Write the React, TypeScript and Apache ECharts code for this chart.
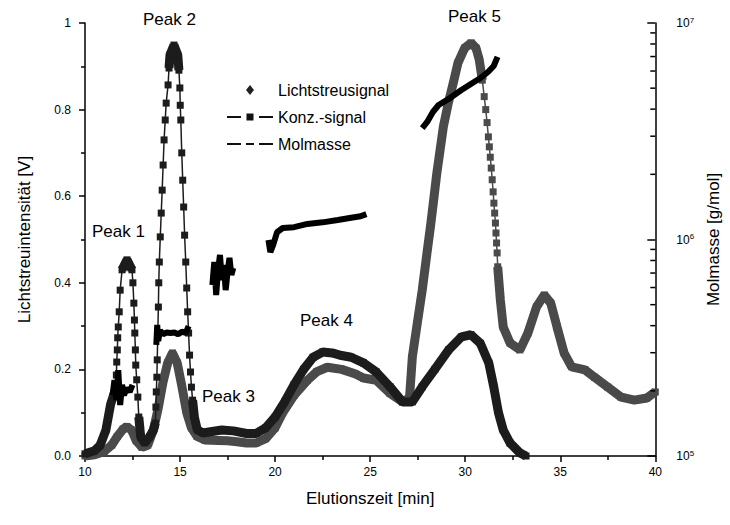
import React, { useEffect, useRef } from "react";
import * as echarts from "echarts";

// Lichtstreusignal (grey curve) [time min, V]
const lichtstreuSignal: [number, number][] = [
  [10.0, 0.0], [10.5, 0.003], [11.0, 0.01], [11.4, 0.025], [11.7, 0.045], [12.0, 0.062], [12.2, 0.068],
  [12.45, 0.06], [12.7, 0.035], [13.0, 0.02], [13.3, 0.025], [13.6, 0.06], [13.85, 0.11], [14.1, 0.17],
  [14.35, 0.215], [14.6, 0.238], [14.85, 0.215], [15.1, 0.16], [15.35, 0.1], [15.6, 0.065], [15.9, 0.045],
  [16.3, 0.037], [17.0, 0.036], [17.5, 0.035], [18.0, 0.033], [18.5, 0.03], [19.0, 0.03], [19.5, 0.04],
  [20.0, 0.065], [20.4, 0.1], [21.0, 0.14], [21.7, 0.175], [22.2, 0.195], [22.75, 0.205], [23.5, 0.2],
  [24.2, 0.19], [24.65, 0.18], [25.32, 0.175], [26.04, 0.145], [26.7, 0.125], [27.07, 0.134], [27.22, 0.229],
  [27.48, 0.307], [27.74, 0.383], [27.99, 0.469], [28.17, 0.529], [28.34, 0.591], [28.51, 0.654],
  [28.68, 0.707], [28.85, 0.76], [29.11, 0.815], [29.37, 0.861], [29.62, 0.908], [29.97, 0.942],
  [30.31, 0.954], [30.57, 0.942], [30.74, 0.915], [30.9, 0.868], [31.0, 0.83], [31.08, 0.8], [31.15, 0.77],
  [31.22, 0.737], [31.27, 0.714], [31.32, 0.69], [31.37, 0.665], [31.42, 0.638], [31.47, 0.61],
  [31.51, 0.584], [31.55, 0.561], [31.59, 0.538], [31.62, 0.515], [31.65, 0.492], [31.68, 0.469],
  [31.71, 0.437], [31.85, 0.36], [32.0, 0.298], [32.36, 0.261], [32.88, 0.245], [33.3, 0.284],
  [33.75, 0.344], [34.16, 0.372], [34.5, 0.353], [34.83, 0.298], [35.2, 0.238], [35.6, 0.206],
  [36.3, 0.199], [36.8, 0.182], [37.5, 0.159], [38.2, 0.136], [38.9, 0.129], [39.56, 0.134], [40.0, 0.148],
];

// Konz.-signal (black curve) [time min, V]
const konzSignal: [number, number][] = [
  [10.0, 0.005], [10.5, 0.012], [10.8, 0.025], [11.1, 0.06], [11.35, 0.12], [11.59, 0.152], [11.65, 0.187],
  [11.67, 0.217], [11.7, 0.245], [11.72, 0.273], [11.75, 0.298], [11.8, 0.333], [11.85, 0.383],
  [11.95, 0.43], [12.21, 0.453], [12.47, 0.43], [12.52, 0.4], [12.57, 0.353], [12.6, 0.314], [12.62, 0.284],
  [12.65, 0.245], [12.67, 0.21], [12.72, 0.176], [12.78, 0.136], [12.83, 0.09], [12.93, 0.044],
  [13.14, 0.03], [13.39, 0.044], [13.6, 0.06], [13.7, 0.076], [13.73, 0.113], [13.75, 0.148],
  [13.78, 0.182], [13.8, 0.222], [13.83, 0.284], [13.86, 0.344], [13.88, 0.4], [13.91, 0.448],
  [13.96, 0.506], [14.01, 0.561], [14.06, 0.614], [14.11, 0.672], [14.16, 0.73], [14.22, 0.776],
  [14.27, 0.815], [14.37, 0.857], [14.42, 0.896], [14.47, 0.926], [14.68, 0.949], [14.88, 0.926],
  [14.94, 0.891], [14.99, 0.85], [15.01, 0.81], [15.04, 0.776], [15.09, 0.7], [15.14, 0.637],
  [15.19, 0.575], [15.24, 0.51], [15.3, 0.448], [15.35, 0.388], [15.4, 0.333], [15.45, 0.284],
  [15.5, 0.233], [15.55, 0.194], [15.6, 0.159], [15.66, 0.129], [15.76, 0.088], [15.91, 0.06],
  [16.22, 0.053], [16.6, 0.056], [17.2, 0.06], [17.8, 0.058], [18.5, 0.052], [19.0, 0.052], [19.5, 0.065],
  [20.0, 0.09], [20.5, 0.125], [21.0, 0.165], [21.5, 0.2], [22.0, 0.228], [22.5, 0.24], [23.0, 0.238],
  [23.5, 0.232], [24.0, 0.228], [24.65, 0.215], [25.32, 0.194], [26.04, 0.16], [26.7, 0.125],
  [27.22, 0.125], [27.74, 0.16], [28.4, 0.2], [29.13, 0.245], [29.8, 0.275], [30.3, 0.28], [30.8, 0.26],
  [31.24, 0.215], [31.5, 0.16], [31.75, 0.1], [32.0, 0.06], [32.36, 0.03], [32.88, 0.007], [33.2, 0.0],
];

// Molmasse [g/mol], five separate segments
const molmasseA: [number, number][] = [
  [11.45, 1.91e5], [11.55, 2.24e5], [11.65, 1.81e5], [11.75, 2.49e5], [11.85, 1.72e5], [11.95, 2.13e5],
  [12.05, 1.91e5], [12.2, 2.06e5], [12.35, 1.98e5], [12.5, 2.13e5],
];
const molmasseB: [number, number][] = [
  [13.75, 3.26e5], [13.8, 4.03e5], [13.85, 3.4e5], [13.95, 3.8e5], [14.1, 3.65e5], [14.3, 3.72e5],
  [14.5, 3.7e5], [14.7, 3.72e5], [14.9, 3.65e5], [15.1, 3.75e5], [15.3, 3.7e5], [15.45, 3.98e5],
];
const molmasseC: [number, number][] = [
  [16.7, 6.17e5], [16.8, 7.87e5], [16.9, 5.54e5], [17.0, 7.23e5], [17.1, 8.48e5], [17.2, 6.5e5],
  [17.3, 7.62e5], [17.4, 5.84e5], [17.5, 7.08e5], [17.6, 8.22e5], [17.7, 6.86e5], [17.8, 7.38e5],
];
const molmasseD: [number, number][] = [
  [19.65, 9.95e5], [19.75, 8.75e5], [19.9, 9.44e5], [20.1, 1.08e6], [20.4, 1.13e6], [21.0, 1.14e6],
  [21.7, 1.18e6], [22.5, 1.2e6], [23.3, 1.23e6], [24.0, 1.26e6], [24.5, 1.28e6], [24.8, 1.31e6],
];
const molmasseE: [number, number][] = [
  [27.74, 3.27e6], [28.0, 3.49e6], [28.3, 3.88e6], [28.6, 4.18e6], [29.2, 4.5e6], [29.8, 4.9e6],
  [30.3, 5.23e6], [30.8, 5.57e6], [31.2, 5.94e6], [31.5, 6.33e6], [31.7, 6.97e6],
];

// time ranges where the measured points stand apart (drawn as separate squares)
const lichtSparseRanges: [number, number][] = [[30.85, 31.72]];
const konzSparseRanges: [number, number][] = [[11.58, 12.0], [12.45, 12.85], [13.69, 14.45], [14.9, 15.7]];

const xMin = 10;
const xMax = 40;
const xInterval = 5;
const yLeftMin = 0;
const yLeftMax = 1;
const yLeftInterval = 0.2;
const yRightMin = 1e5;
const yRightMax = 1e7;
const logMinorTicks = [2e5, 3e5, 4e5, 5e5, 6e5, 7e5, 8e5, 9e5, 2e6, 3e6, 4e6, 5e6, 6e6, 7e6, 8e6, 9e6];

const peakLabels = [
  { text: "Peak 1", left: 92, top: 223 },
  { text: "Peak 2", left: 143, top: 11 },
  { text: "Peak 3", left: 202, top: 388 },
  { text: "Peak 4", left: 300, top: 312 },
  { text: "Peak 5", left: 448, top: 8 },
];

const FONT = "'Liberation Sans', Arial, sans-serif";
// legend icons drawn in a 46x12 box; two tiny anchors keep the box size
const ANCHORS = "M0,0L0.05,0L0,0.05Z M46,12L45.95,12L46,11.95Z ";
const DIAMOND_ICON = "path://" + ANCHORS + "M23,1L27,6L23,11L19,6Z";
const LINE_SQUARE_ICON = "path://" + ANCHORS + "M0,5.1H14V6.9H0Z M19.5,2.5H26.5V9.5H19.5Z M32,5.1H46V6.9H32Z";
const DASH_DOT_ICON = "path://" + ANCHORS + "M0,5.1H14V6.9H0Z M19,5.1H27V6.9H19Z M32,5.1H46V6.9H32Z";

function thickPart(pts: [number, number][], sparse: [number, number][]) {
  const inSparse = (a: number, b: number) => sparse.some(([s, e]) => a >= s && a <= e && b >= s && b <= e);
  const out: any[] = [];
  for (let i = 0; i < pts.length; i++) {
    out.push(pts[i]);
    if (i < pts.length - 1 && inSparse(pts[i][0], pts[i + 1][0])) {
      out.push([(pts[i][0] + pts[i + 1][0]) / 2, "-"]);
    }
  }
  return out;
}

function joinSegments(segs: [number, number][][]) {
  const out: any[] = [];
  segs.forEach((s, i) => {
    if (i > 0) out.push([(segs[i - 1][segs[i - 1].length - 1][0] + s[0][0]) / 2, "-"]);
    s.forEach((p) => out.push(p));
  });
  return out;
}

export default function App() {
  const ref = useRef<HTMLDivElement>(null);
  useEffect(() => {
    if (!ref.current) return;
    const chart = echarts.init(ref.current, undefined, { renderer: "svg" });
    const grey = "#4a4a4a";
    const black = "#1c1c1c";
    chart.setOption({
      animation: false,
      backgroundColor: "#ffffff",
      textStyle: { fontFamily: FONT },
      grid: { left: 85, right: 62, top: 23, bottom: 69 },
      legend: {
        left: 222,
        top: 77,
        orient: "vertical",
        itemWidth: 46,
        itemHeight: 12,
        itemGap: 11,
        textStyle: { fontSize: 16, color: "#000", fontFamily: FONT },
        data: [
          { name: "Lichtstreusignal", icon: DIAMOND_ICON, itemStyle: { color: "#222", borderWidth: 0 } },
          { name: "Konz.-signal", icon: LINE_SQUARE_ICON, itemStyle: { color: "#111", borderWidth: 0 } },
          { name: "Molmasse", icon: DASH_DOT_ICON, itemStyle: { color: "#111", borderWidth: 0 } },
        ],
      },
      xAxis: {
        type: "value",
        min: xMin,
        max: xMax,
        interval: xInterval,
        name: "Elutionszeit [min]",
        nameLocation: "middle",
        nameGap: 34,
        nameTextStyle: { fontSize: 17, color: "#000", fontFamily: FONT },
        axisLine: { lineStyle: { color: "#000", width: 1.5 } },
        axisTick: { length: 6, lineStyle: { color: "#000", width: 1.5 } },
        minorTick: { show: true, splitNumber: 2, length: 4, lineStyle: { color: "#000", width: 1.5 } },
        axisLabel: { fontSize: 12, color: "#000", margin: 10 },
        splitLine: { show: false },
      },
      yAxis: [
        {
          type: "value",
          min: yLeftMin,
          max: yLeftMax,
          interval: yLeftInterval,
          name: "Lichtstreuintensität [V]",
          nameLocation: "middle",
          nameGap: 52,
          nameTextStyle: { fontSize: 17, color: "#000", fontFamily: FONT },
          axisLine: { show: true, lineStyle: { color: "#000", width: 1.5 } },
          axisTick: { show: true, length: 6, lineStyle: { color: "#000", width: 1.5 } },
          minorTick: { show: true, splitNumber: 2, length: 4, lineStyle: { color: "#000", width: 1.5 } },
          axisLabel: {
            fontSize: 12,
            color: "#000",
            margin: 14,
            formatter: (v: number) => (v === 1 ? "1" : v.toFixed(1)),
          },
          splitLine: { show: false },
        },
        {
          type: "log",
          logBase: 10,
          min: yRightMin,
          max: yRightMax,
          position: "right",
          name: "Molmasse [g/mol]",
          nameLocation: "middle",
          nameGap: 47,
          nameTextStyle: { fontSize: 17, color: "#000", fontFamily: FONT },
          axisLine: { show: true, lineStyle: { color: "#000", width: 1.5 } },
          axisTick: { show: true, inside: true, length: 8, lineStyle: { color: "#000", width: 1.5 } },
          axisLabel: {
            color: "#000",
            margin: 21,
            formatter: (v: number) => `{b|10}{e|${Math.round(Math.log10(v))}}`,
            rich: {
              b: { fontSize: 12, color: "#000" },
              e: { fontSize: 8, color: "#000", verticalAlign: "top", padding: [0, 0, 6, 0] },
            },
          },
          splitLine: { show: false },
        },
      ],
      graphic: peakLabels.map((p) => ({
        type: "text",
        left: p.left,
        top: p.top,
        style: { text: p.text, fontSize: 17, fill: "#000", fontFamily: FONT },
      })),
      series: [
        {
          name: "Lichtstreusignal",
          type: "line",
          data: lichtstreuSignal,
          symbol: "rect",
          symbolSize: 7,
          lineStyle: { color: grey, width: 1.5 },
          itemStyle: { color: grey },
          z: 2,
        },
        {
          name: "Lichtstreusignal",
          type: "line",
          data: thickPart(lichtstreuSignal, lichtSparseRanges),
          symbol: "none",
          lineStyle: { color: grey, width: 9 },
          itemStyle: { color: grey },
          z: 2,
        },
        {
          name: "Konz.-signal",
          type: "line",
          data: konzSignal,
          symbol: "rect",
          symbolSize: 7,
          lineStyle: { color: black, width: 1.5 },
          itemStyle: { color: black },
          z: 3,
        },
        {
          name: "Konz.-signal",
          type: "line",
          data: thickPart(konzSignal, konzSparseRanges),
          symbol: "none",
          lineStyle: { color: black, width: 9 },
          itemStyle: { color: black },
          z: 3,
        },
        {
          name: "Molmasse",
          type: "line",
          yAxisIndex: 1,
          data: joinSegments([molmasseA, molmasseB, molmasseC, molmasseD, molmasseE]),
          symbol: "none",
          lineStyle: { color: "#000", width: 6 },
          itemStyle: { color: "#000" },
          z: 4,
        },
        {
          type: "custom",
          yAxisIndex: 1,
          silent: true,
          data: logMinorTicks.map((v) => [xMax, v]),
          renderItem: (_p: any, api: any) => {
            const pt = api.coord([api.value(0), api.value(1)]);
            return {
              type: "line",
              shape: { x1: pt[0] - 5, y1: pt[1], x2: pt[0], y2: pt[1] },
              style: { stroke: "#000", lineWidth: 1.5 },
            };
          },
          z: 5,
        },
      ],
    });
    return () => chart.dispose();
  }, []);
  return (
    <div
      ref={ref}
      style={{ position: "fixed", left: 0, top: 0, width: 730, height: 525, background: "#fff" }}
    />
  );
}
